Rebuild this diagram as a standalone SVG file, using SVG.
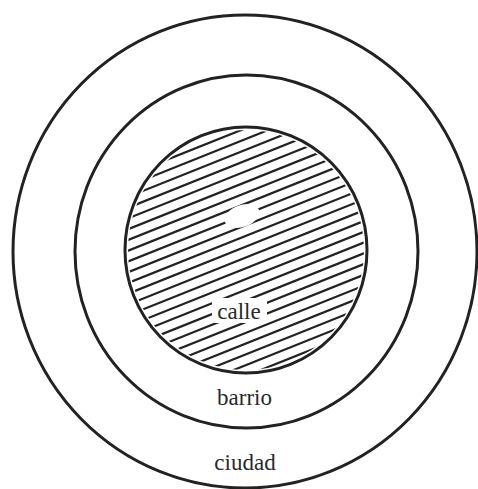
<svg xmlns="http://www.w3.org/2000/svg" width="478" height="489" viewBox="0 0 478 489">
  <style>
    .ring { fill: none; stroke: #222; stroke-width: 3; }
    .hatch { stroke: #222; stroke-width: 2.2; stroke-linecap: round; }
    .lbl { font-family: "Liberation Serif", "DejaVu Serif", serif; font-size: 23px; fill: #2a2a2a; text-anchor: middle; }
  </style>
  <defs>
    <clipPath id="innerClip">
      <ellipse cx="246" cy="250" rx="118" ry="120"/>
    </clipPath>
    <mask id="hatchMask">
      <rect x="0" y="0" width="478" height="489" fill="#fff"/>
      <ellipse cx="242" cy="216" rx="18" ry="11" transform="rotate(-20 242 216)" fill="#000"/>
      <rect x="212" y="298" width="55" height="25" rx="4" fill="#000"/>
    </mask>
  </defs>
  <rect width="478" height="489" fill="#fff"/>
  <g id="ciudad">
    <ellipse class="ring" cx="245" cy="251.5" rx="232" ry="236.5"/>
    <text class="lbl" x="245" y="470">ciudad</text>
  </g>
  <g id="barrio">
    <ellipse class="ring" cx="246.5" cy="251.5" rx="171.5" ry="176.5"/>
    <text class="lbl" x="244.5" y="405">barrio</text>
  </g>
  <g id="calle">
    <g clip-path="url(#innerClip)">
      <g mask="url(#hatchMask)" class="hatch">
        <line x1="110" y1="182.5" x2="382" y2="73.7"/>
        <line x1="110" y1="193.3" x2="382" y2="84.5"/>
        <line x1="110" y1="204.1" x2="382" y2="95.3"/>
        <line x1="110" y1="214.9" x2="382" y2="106.1"/>
        <line x1="110" y1="225.6" x2="382" y2="116.8"/>
        <line x1="110" y1="236.4" x2="382" y2="127.6"/>
        <line x1="110" y1="247.2" x2="382" y2="138.4"/>
        <line x1="110" y1="257.9" x2="382" y2="149.1"/>
        <line x1="110" y1="268.7" x2="382" y2="159.9"/>
        <line x1="110" y1="279.5" x2="382" y2="170.7"/>
        <line x1="110" y1="290.2" x2="382" y2="181.4"/>
        <line x1="110" y1="301.0" x2="382" y2="192.2"/>
        <line x1="110" y1="311.8" x2="382" y2="203.0"/>
        <line x1="110" y1="322.6" x2="382" y2="213.8"/>
        <line x1="110" y1="333.3" x2="382" y2="224.5"/>
        <line x1="110" y1="344.1" x2="382" y2="235.3"/>
        <line x1="110" y1="354.9" x2="382" y2="246.1"/>
        <line x1="110" y1="365.6" x2="382" y2="256.8"/>
        <line x1="110" y1="376.4" x2="382" y2="267.6"/>
        <line x1="110" y1="387.2" x2="382" y2="278.4"/>
        <line x1="110" y1="397.9" x2="382" y2="289.1"/>
        <line x1="110" y1="408.7" x2="382" y2="299.9"/>
        <line x1="110" y1="419.5" x2="382" y2="310.7"/>
        <line x1="110" y1="430.3" x2="382" y2="321.5"/>
      </g>
    </g>
    <ellipse class="ring" cx="246" cy="250" rx="121" ry="123"/>
    <text class="lbl" x="239" y="319">calle</text>
  </g>
  <g id="connectors"/>
</svg>
